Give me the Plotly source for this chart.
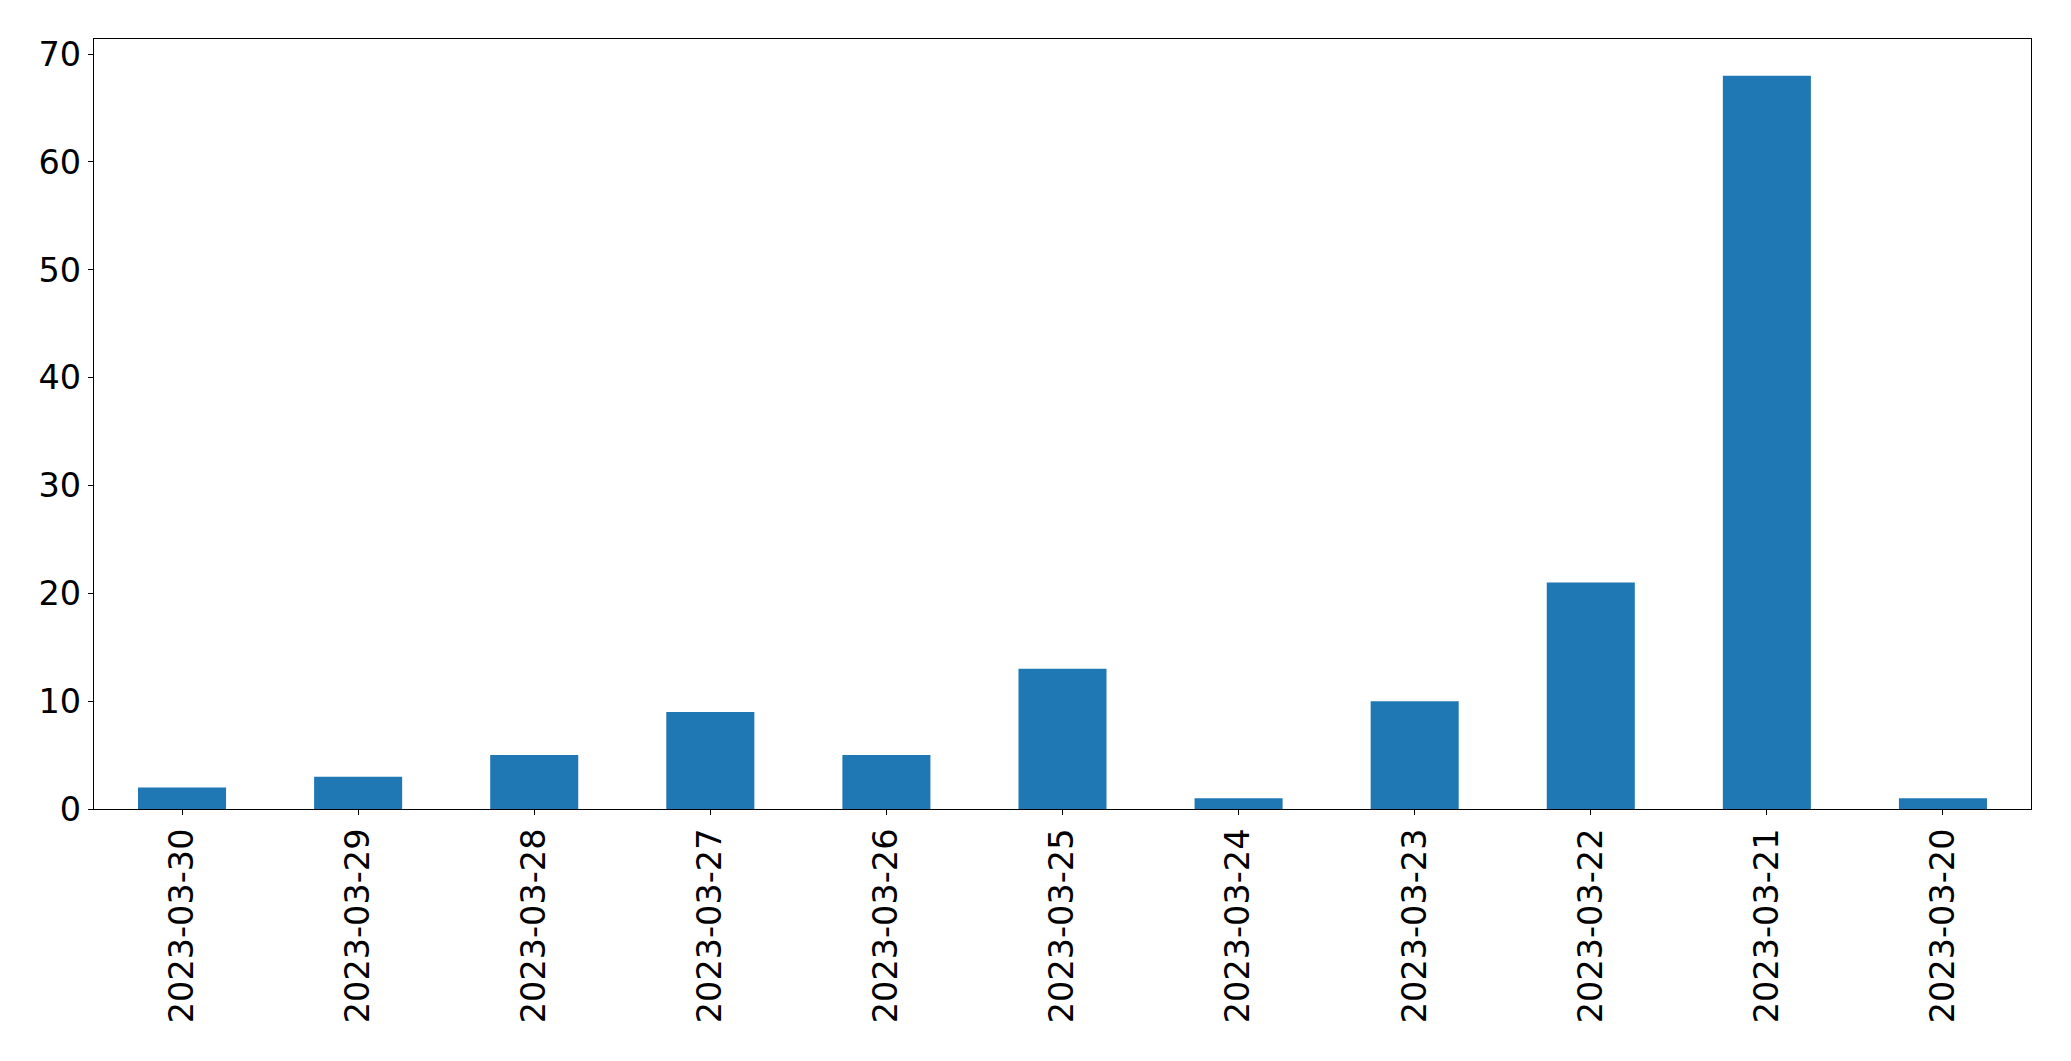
import plotly.graph_objects as go

dates = ["2023-03-30", "2023-03-29", "2023-03-28", "2023-03-27", "2023-03-26",
         "2023-03-25", "2023-03-24", "2023-03-23", "2023-03-22", "2023-03-21", "2023-03-20"]
counts = [2, 3, 5, 9, 5, 13, 1, 10, 21, 68, 1]
y_ticks = [0, 10, 20, 30, 40, 50, 60, 70]

fig = go.Figure(go.Bar(x=dates, y=counts, width=0.5, marker_color="#1f77b4",
                       marker_line_width=0))

font = dict(family="DejaVu Sans", size=33.5, color="black")
# page body has an 8px margin; sizes compensate so the plot lands where the reference has it
fig.update_layout(
    width=2055, height=1045,
    margin=dict(l=86, r=32, t=31, b=244, autoexpand=False),
    paper_bgcolor="white", plot_bgcolor="white",
    showlegend=False,
    font=font,
)
fig.update_xaxes(type="category", range=[-0.5, 10.5], tickangle=-90, automargin=False,
                 showline=True, linecolor="black", linewidth=1.3, mirror=True,
                 ticks="outside", ticklen=5, tickcolor="black", tickwidth=1.3,
                 showgrid=False, zeroline=False, tickfont=font)
fig.update_yaxes(range=[0, 71.4], tickvals=y_ticks, automargin=False,
                 showline=True, linecolor="black", linewidth=1.3, mirror=True,
                 ticks="outside", ticklen=5, tickcolor="black", tickwidth=1.3,
                 showgrid=False, zeroline=False, tickfont=font)

fig.write_html("out.html")
